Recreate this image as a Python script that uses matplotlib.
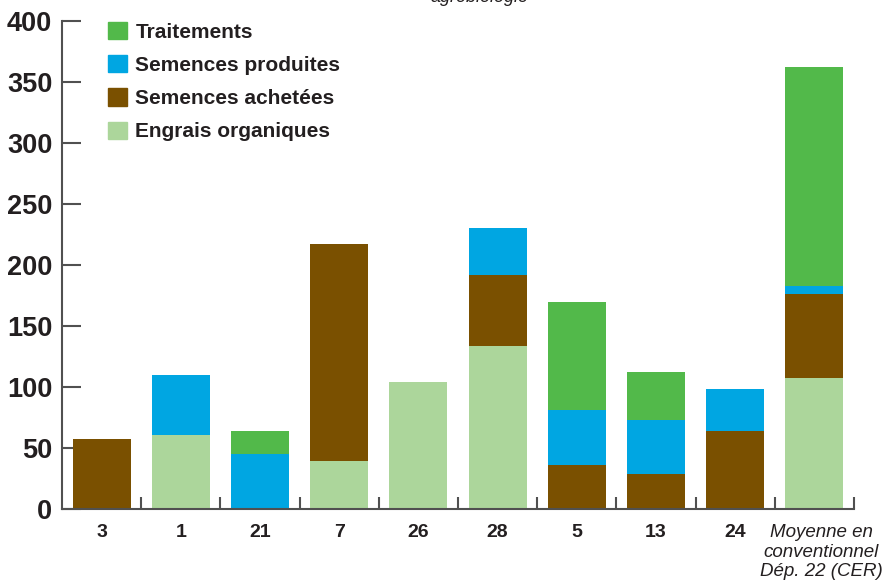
import matplotlib.pyplot as plt
import numpy as np
from matplotlib.patches import Patch
from matplotlib.transforms import ScaledTranslation

plt.rcParams['font.family'] = ['Liberation Sans', 'DejaVu Sans']

# Données
categories = ["3", "1", "21", "7", "26", "28", "5", "13", "24",
              "Moyenne en\nconventionnel\nDép. 22 (CER)"]
engrais = [0, 61, 0, 39, 104, 134, 0, 0, 0, 107]
sem_achetees = [57, 0, 0, 178, 0, 58, 36, 29, 64, 69]
sem_produites = [0, 49, 45, 0, 0, 38, 45, 44, 34, 7]
traitements = [0, 0, 19, 0, 0, 0, 89, 39, 0, 179]

c_engrais = "#acd69b"
c_achetees = "#7a5000"
c_produites = "#00a6e2"
c_traitements = "#52b94a"
txt = "#231f20"
axe = "#505050"

fig = plt.figure(figsize=(8.84, 5.82), dpi=100)
ax = fig.add_axes([62 / 884, 73 / 582, 792 / 884, 488 / 582])

x = np.arange(len(categories))
w = 0.73
b = np.zeros(len(categories))
for vals, col in [(engrais, c_engrais), (sem_achetees, c_achetees),
                  (sem_produites, c_produites), (traitements, c_traitements)]:
    ax.bar(x, vals, w, bottom=b, color=col, linewidth=0, zorder=2)
    b += np.array(vals)

ax.set_xlim(-0.5, len(categories) - 0.5)
ax.set_ylim(0, 400)

for s in ["top", "right"]:
    ax.spines[s].set_visible(False)
for s in ["left", "bottom"]:
    ax.spines[s].set_color(axe)
    ax.spines[s].set_linewidth(1.5)
    ax.spines[s].set_zorder(3)

ax.set_yticks(range(0, 401, 50))
ax.tick_params(axis="y", direction="in", length=14, width=1.5, color=axe,
               labelsize=19.5, labelcolor=txt, pad=7)
for lab in ax.get_yticklabels():
    lab.set_fontweight("bold")

ax.set_xticks(x)
ax.set_xticklabels(categories)
ax.tick_params(axis="x", which="major", length=0, pad=11, labelsize=14, labelcolor=txt)
for i, lab in enumerate(ax.get_xticklabels()):
    if i == len(categories) - 1:
        lab.set_fontstyle("italic")
        lab.set_fontsize(13.5)
        lab.set_linespacing(1.2)
        lab.set_transform(lab.get_transform() + ScaledTranslation(0.07, 0, fig.dpi_scale_trans))
    else:
        lab.set_fontweight("bold")
ax.set_xticks(np.arange(0.5, len(categories) - 0.5 + 0.01, 1.0), minor=True)
ax.tick_params(axis="x", which="minor", direction="in", length=9, width=1.5, color=axe)

handles = [Patch(color=c_traitements, label="Traitements"),
           Patch(color=c_produites, label="Semences produites"),
           Patch(color=c_achetees, label="Semences achetées"),
           Patch(color=c_engrais, label="Engrais organiques")]
leg = ax.legend(handles=handles, loc="upper left", bbox_to_anchor=(0.048, 1.015),
                frameon=False, fontsize=15, handlelength=0.9, handleheight=0.9,
                handletextpad=0.4, labelspacing=0.64, borderaxespad=0)
for t in leg.get_texts():
    t.set_fontweight("bold")
    t.set_color(txt)

fig.text(0.543, 1 - 2.5 / 582, "agrobiologie", ha="center", va="baseline",
         fontsize=13, fontstyle="italic", color=txt)

fig.savefig("out.png", dpi=100)
